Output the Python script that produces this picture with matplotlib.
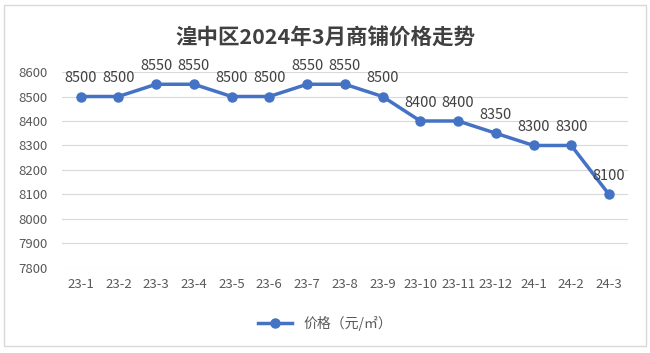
import matplotlib.pyplot as plt
from matplotlib.patches import Rectangle

plt.rcParams['font.family'] = ['Noto Sans CJK SC', 'DejaVu Sans']

months = ['23-1', '23-2', '23-3', '23-4', '23-5', '23-6', '23-7', '23-8',
          '23-9', '23-10', '23-11', '23-12', '24-1', '24-2', '24-3']
prices = [8500, 8500, 8550, 8550, 8500, 8500, 8550, 8550,
          8500, 8400, 8400, 8350, 8300, 8300, 8100]
y_ticks = [7800, 7900, 8000, 8100, 8200, 8300, 8400, 8500, 8600]

line_color = '#4472C4'
text_color = '#595959'

fig = plt.figure(figsize=(6.5, 3.53), dpi=100)
fig.patches.append(Rectangle((0.006, 0.02), 0.988, 0.965, transform=fig.transFigure,
                             fill=False, edgecolor='#D9D9D9', linewidth=1))

ax = fig.add_axes([0.095, 0.241, 0.871, 0.555])
x = list(range(len(months)))
ax.plot(x, prices, color=line_color, linewidth=2.5, marker='o', markersize=6.5,
        label='价格（元/㎡）', zorder=3)

for xi, v in zip(x, prices):
    ax.annotate(str(v), (xi, v), xytext=(0, 8), textcoords='offset points',
                ha='center', va='bottom', fontsize=10.5, color='#404040')

ax.set_xlim(-0.5, len(months) - 0.5)
ax.set_ylim(7800, 8600)
ax.set_yticks(y_ticks)
ax.set_xticks(x)
ax.set_xticklabels(months)
ax.tick_params(axis='both', length=0, labelsize=9.5, labelcolor=text_color)
ax.tick_params(axis='x', pad=7)
ax.tick_params(axis='y', pad=10)
ax.grid(axis='y', color='#D9D9D9', linewidth=0.8)
ax.set_axisbelow(True)
for s in ax.spines.values():
    s.set_visible(False)

fig.text(0.5, 0.895, '湟中区2024年3月商铺价格走势', ha='center', va='center',
         fontsize=15.5, fontweight='bold', color='#404040')

ax.legend(loc='center', bbox_to_anchor=(0.5, 0.085), bbox_transform=fig.transFigure,
          frameon=False, fontsize=10, labelcolor=text_color, handlelength=2.5)

fig.savefig('out.png', dpi=100)
